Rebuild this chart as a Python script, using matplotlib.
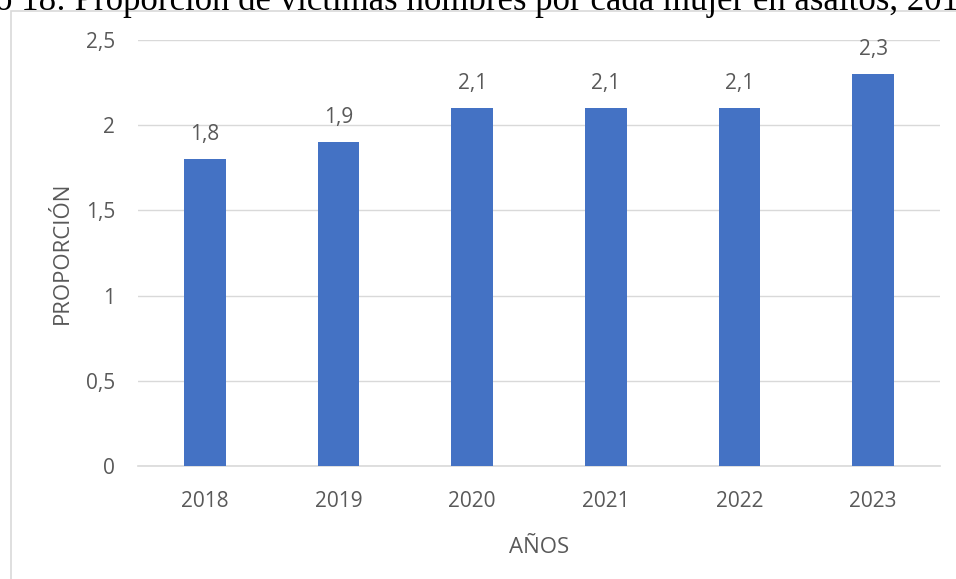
import matplotlib.pyplot as plt
from matplotlib.patches import Rectangle
from matplotlib.ticker import FuncFormatter

years = ["2018", "2019", "2020", "2021", "2022", "2023"]
ratios = [1.8, 1.9, 2.1, 2.1, 2.1, 2.3]
yticks = [0, 0.5, 1, 1.5, 2, 2.5]

BAR_COLOR = "#4472C4"
TEXT_COLOR = "#595959"
GRID_COLOR = "#D9D9D9"
FONT = "Open Sans"


def comma(v, pos=None):
    s = f"{v:g}"
    return s.replace(".", ",")


fig = plt.figure(figsize=(9.56, 5.79), dpi=100)

# chart frame (cut off at right and bottom)
fig.patches.append(Rectangle((11 / 956, -0.05), 1.0, 1 - 11 / 579 + 0.05,
                             transform=fig.transFigure, fill=False,
                             edgecolor=GRID_COLOR, linewidth=1.2))

# document caption, cropped by the page edge
fig.text(-5 / 956, 1 - 9.5 / 579,
         "o 18: Proporción de víctimas hombres por cada mujer en asaltos, 2018",
         family="Liberation Serif", fontsize=25, color="black",
         ha="left", va="baseline")

ax = fig.add_axes([138 / 956, 113 / 579, 802 / 956, 426 / 579])
x = range(len(years))
bars = ax.bar(x, ratios, width=0.31, color=BAR_COLOR, zorder=3)

for xi, v in zip(x, ratios):
    ax.annotate(comma(v), (xi, v), xytext=(0, 18), textcoords="offset points",
                ha="center", va="center", fontsize=15, color=TEXT_COLOR,
                family=FONT)

ax.set_xlim(-0.5, len(years) - 0.5)
ax.set_ylim(0, 2.5)
ax.set_yticks(yticks)
ax.yaxis.set_major_formatter(FuncFormatter(comma))
ax.set_xticks(list(x))
ax.set_xticklabels(years)

ax.grid(axis="y", color=GRID_COLOR, linewidth=1.0, zorder=0)
for side in ["top", "right", "left"]:
    ax.spines[side].set_visible(False)
ax.spines["bottom"].set_color(GRID_COLOR)
ax.spines["bottom"].set_linewidth(1.2)
ax.tick_params(axis="both", length=0, labelsize=15, labelcolor=TEXT_COLOR)
ax.tick_params(axis="y", pad=16.5)
ax.tick_params(axis="x", pad=18)
for lbl in ax.get_xticklabels() + ax.get_yticklabels():
    lbl.set_family(FONT)

ax.set_xlabel("AÑOS", fontsize=16, color=TEXT_COLOR, family=FONT, labelpad=18)
ax.set_ylabel("PROPORCIÓN", fontsize=16, color=TEXT_COLOR, family=FONT, labelpad=9)

fig.savefig("out.png", dpi=100)
